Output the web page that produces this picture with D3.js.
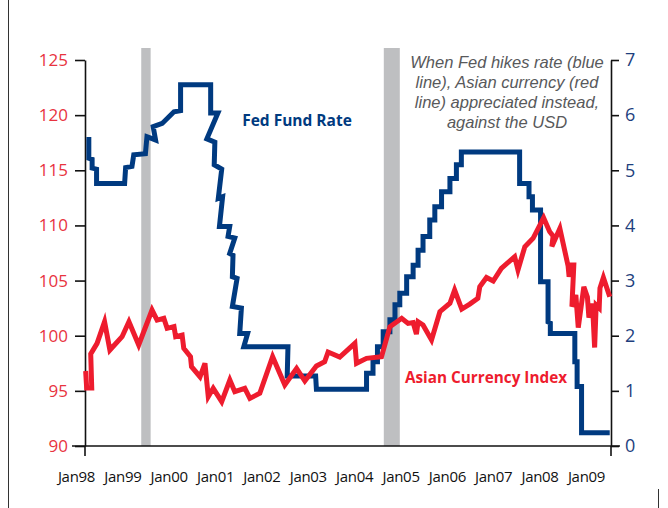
<!DOCTYPE html>
<html>
<head>
<meta charset="utf-8">
<script src="https://cdn.jsdelivr.net/npm/d3@7"></script>
<style>
  body { margin: 0; background: #fff; }
  svg { display: block; }
</style>
</head>
<body>
<div id="chart"></div>
<script>
// Fed fund rate (right axis, %)
const fedDates = [
  "1998-03-24", "1998-04-12", "1998-04-12", "1998-05-08", "1998-05-08", "1998-06-12", "1998-06-12",
  "1999-01-19", "1999-01-27", "1999-03-18", "1999-04-01", "1999-07-02", "1999-07-14", "1999-09-20",
  "1999-09-01", "1999-11-11", "2000-02-12", "2000-04-04", "2000-04-04", "2000-11-27", "2000-11-27",
  "2001-01-23", "2000-10-28", "2000-12-30", "2000-12-25", "2001-02-22", "2001-01-26", "2001-03-01",
  "2001-02-04", "2001-04-26", "2001-04-13", "2001-06-05", "2001-04-26", "2001-05-22", "2001-05-17",
  "2001-06-23", "2001-05-17", "2001-07-27", "2001-07-14", "2001-09-14", "2001-08-15", "2002-07-29",
  "2002-07-23", "2003-03-04", "2003-03-10", "2004-04-08", "2004-04-08", "2004-05-29", "2004-05-29",
  "2004-07-03", "2004-07-03", "2004-08-17", "2004-08-17", "2004-10-09", "2004-10-09", "2004-11-18",
  "2004-11-18", "2004-12-26", "2004-12-26", "2005-02-18", "2005-02-18", "2005-04-10", "2005-04-10",
  "2005-05-19", "2005-05-19", "2005-06-27", "2005-06-27", "2005-08-19", "2005-08-19", "2005-09-28",
  "2005-09-28", "2005-11-20", "2005-11-20", "2006-01-25", "2006-01-25", "2006-03-17", "2006-03-17",
  "2006-04-25", "2006-04-25", "2007-07-28", "2007-07-28", "2007-10-10", "2007-10-10", "2007-11-06",
  "2007-11-06", "2008-01-09", "2008-01-09", "2008-03-08", "2008-03-08", "2008-03-26", "2008-03-26",
  "2008-10-05", "2008-10-05", "2008-10-23", "2008-10-23", "2008-11-27", "2008-11-27", "2009-07-07"
];
const fedValues = [
  5.56, 5.56, 5.22, 5.20, 5.04, 5.02, 4.76,
  4.76, 5.05, 5.07, 5.28, 5.30, 5.61, 5.55,
  5.79, 5.85, 6.06, 6.08, 6.55, 6.55, 6.04,
  6.04, 5.57, 5.51, 5.10, 5.02, 4.49, 4.52,
  3.98, 3.98, 3.80, 3.77, 3.49, 3.46, 3.07,
  3.04, 2.53, 2.50, 2.04, 2.04, 1.80, 1.80,
  1.27, 1.27, 1.03, 1.03, 1.32, 1.32, 1.53,
  1.53, 1.80, 1.80, 2.07, 2.07, 2.29, 2.29,
  2.56, 2.56, 2.77, 2.77, 3.07, 3.07, 3.28,
  3.28, 3.55, 3.55, 3.80, 3.80, 4.10, 4.10,
  4.34, 4.34, 4.61, 4.61, 4.85, 4.85, 5.10,
  5.10, 5.33, 5.33, 4.76, 4.76, 4.52, 4.52,
  4.28, 4.28, 2.98, 2.98, 2.25, 2.23, 2.04,
  2.04, 1.53, 1.53, 1.08, 1.08, 0.24, 0.24
];

// Asian currency index (left axis)
const asiaDates = [
  "1998-03-18", "1998-03-26", "1998-05-05", "1998-04-27", "1998-06-16", "1998-08-14", "1998-09-25",
  "1998-12-30", "1999-02-22", "1999-05-10", "1999-08-23", "1999-10-02", "1999-11-24", "1999-12-20",
  "2000-02-12", "2000-02-25", "2000-04-16", "2000-04-29", "2000-06-21", "2000-06-29", "2000-09-04",
  "2000-10-13", "2000-11-08", "2000-12-17", "2001-02-22", "2001-04-27", "2001-06-05", "2001-08-23",
  "2001-10-02", "2001-12-19", "2002-03-30", "2002-07-04", "2002-10-05", "2002-12-09", "2003-03-10",
  "2003-05-14", "2003-06-10", "2003-09-10", "2004-01-07", "2004-01-20", "2004-04-08", "2004-08-04",
  "2004-10-09", "2005-01-10", "2005-03-01", "2005-04-10", "2005-05-06", "2005-05-19", "2005-06-27",
  "2005-09-02", "2005-11-07", "2006-01-25", "2006-03-03", "2006-04-28", "2006-06-30", "2006-09-02",
  "2006-09-17", "2006-11-09", "2007-01-01", "2007-03-06", "2007-06-19", "2007-07-15", "2007-09-07",
  "2007-11-11", "2008-02-02", "2008-03-21", "2008-04-17", "2008-04-07", "2008-06-09", "2008-08-13",
  "2008-08-21", "2008-09-10", "2008-09-27", "2008-09-12", "2008-10-13", "2008-11-01", "2008-12-15",
  "2009-01-12", "2009-01-24", "2009-02-21", "2009-03-10", "2009-03-22", "2009-04-15", "2009-04-21",
  "2009-05-18", "2009-07-07"
];
const asiaValues = [
  96.80, 95.26, 95.26, 98.34, 99.31, 101.27, 98.70,
  99.91, 101.27, 99.16, 102.33, 101.42, 101.58, 100.67,
  100.82, 99.91, 100.06, 98.86, 98.10, 97.19, 96.28,
  97.50, 94.47, 95.23, 94.02, 95.98, 94.92, 95.23,
  94.32, 94.78, 98.10, 95.53, 97.04, 95.89, 97.25,
  97.64, 98.52, 98.07, 99.31, 97.50, 97.95, 98.10,
  100.82, 101.58, 101.12, 101.20, 100.15, 101.27, 100.97,
  99.61, 102.18, 102.94, 104.14, 102.42, 102.87, 103.39,
  104.44, 105.28, 104.96, 106.11, 107.16, 105.96, 108.07,
  108.83, 110.69, 109.43, 109.04, 108.09, 109.72, 106.32,
  105.35, 106.41, 106.41, 102.63, 103.69, 100.74, 104.44,
  103.51, 101.65, 102.92, 98.93, 102.78, 102.51, 104.32,
  105.28, 103.54
];

// shaded periods (Fed hiking starts)
const shadeStarts = ["1999-05-30", "2004-08-22"];
const shadeEnds = ["1999-08-12", "2004-12-26"];

const xTickYears = ["1998", "1999", "2000", "2001", "2002", "2003", "2004", "2005", "2006", "2007", "2008", "2009"];
const xTickLabels = ["Jan98", "Jan99", "Jan00", "Jan01", "Jan02", "Jan03", "Jan04", "Jan05", "Jan06", "Jan07", "Jan08", "Jan09"];
const leftTicks = [90, 95, 100, 105, 110, 115, 120, 125];
const rightTicks = [0, 1, 2, 3, 4, 5, 6, 7];

const noteLines = [
  "When Fed hikes rate (blue",
  "line), Asian currency (red",
  "line) appreciated instead,",
  "against the USD"
];

const W = 668, H = 508;
const plotLeft = 85, plotRight = 611, plotTop = 60, plotBottom = 446;
const blue = "#003a80", red = "#ee1c2e";
const tickFont = "'Open Sans', sans-serif";

const parse = d3.timeParse("%Y-%m-%d");
const fedData = fedDates.map((d, i) => ({ date: parse(d), value: fedValues[i] }));
const asiaData = asiaDates.map((d, i) => ({ date: parse(d), value: asiaValues[i] }));

const svg = d3.select("#chart").append("svg")
  .attr("width", W)
  .attr("height", H);

// Scales
const x = d3.scaleTime()
  .domain([parse("1998-01-01"), parse("2009-01-01")])
  .range([76, 586]);
const yL = d3.scaleLinear().domain([90, 125]).range([plotBottom, plotTop]);
const yR = d3.scaleLinear().domain([0, 7]).range([plotBottom, plotTop]);

// frame
svg.append("line").attr("x1", 8.5).attr("x2", 8.5).attr("y1", 0).attr("y2", H)
  .attr("stroke", "#333").attr("stroke-width", 1);
svg.append("line").attr("x1", 658.5).attr("x2", 658.5).attr("y1", 489).attr("y2", H)
  .attr("stroke", "#333").attr("stroke-width", 1);

// shaded bands
svg.selectAll(".shade")
  .data(shadeStarts.map((s, i) => ({ s: parse(s), e: parse(shadeEnds[i]) })))
  .join("rect")
  .attr("class", "shade")
  .attr("x", d => x(d.s))
  .attr("width", d => x(d.e) - x(d.s))
  .attr("y", 48)
  .attr("height", plotBottom - 48)
  .attr("fill", "#bebfc1");

// Axes
const leftAxis = svg.append("g")
  .attr("transform", `translate(${plotLeft},0)`)
  .call(d3.axisLeft(yL).tickValues(leftTicks).tickSize(10).tickSizeOuter(0).tickPadding(7));
leftAxis.selectAll("text")
  .attr("fill", "#e8333f")
  .style("font-family", tickFont)
  .style("font-size", "17px");

const rightAxis = svg.append("g")
  .attr("transform", `translate(${plotRight},0)`)
  .call(d3.axisRight(yR).tickValues(rightTicks).tickFormat(d3.format("d"))
    .tickSize(8).tickSizeOuter(0).tickPadding(6));
rightAxis.selectAll("text")
  .attr("fill", "#1e3f7e")
  .style("font-family", tickFont)
  .style("font-size", "18px");

[leftAxis, rightAxis].forEach(g => {
  g.selectAll("line, path").attr("stroke", "#111").attr("stroke-width", 1.6);
});

// vertical axes run a little below the baseline
svg.append("line").attr("x1", plotLeft).attr("x2", plotLeft).attr("y1", plotBottom).attr("y2", 456)
  .attr("stroke", "#111").attr("stroke-width", 1.6);
svg.append("line").attr("x1", plotRight).attr("x2", plotRight).attr("y1", plotBottom).attr("y2", 456)
  .attr("stroke", "#111").attr("stroke-width", 1.6);

const bottomAxis = svg.append("g")
  .attr("transform", `translate(0,${plotBottom})`)
  .call(d3.axisBottom(x).tickValues(xTickYears.map(y => parse(y + "-01-01"))).tickSize(0)
    .tickFormat((d, i) => xTickLabels[i]));
bottomAxis.select(".domain").remove();
bottomAxis.selectAll("text")
  .attr("y", 36)
  .attr("dy", 0)
  .attr("fill", "#111")
  .style("font-family", tickFont)
  .style("font-size", "15px")
  .style("letter-spacing", "-0.3px");
svg.append("line").attr("x1", 72).attr("x2", 620).attr("y1", plotBottom).attr("y2", plotBottom)
  .attr("stroke", "#111").attr("stroke-width", 1.6);

// Lines
svg.append("path")
  .datum(fedData)
  .attr("fill", "none")
  .attr("stroke", blue)
  .attr("stroke-width", 5)
  .attr("stroke-linejoin", "miter")
  .attr("d", d3.line().x(d => x(d.date)).y(d => yR(d.value)));

svg.append("path")
  .datum(asiaData)
  .attr("fill", "none")
  .attr("stroke", red)
  .attr("stroke-width", 5)
  .attr("stroke-linejoin", "miter")
  .attr("d", d3.line().x(d => x(d.date)).y(d => yL(d.value)));

// Labels
svg.append("text")
  .attr("x", 297).attr("y", 126)
  .attr("text-anchor", "middle")
  .attr("fill", blue)
  .style("font-family", "'Open Sans', sans-serif")
  .style("font-weight", "bold")
  .style("font-size", "15.5px")
  .text("Fed Fund Rate");

svg.append("text")
  .attr("x", 486).attr("y", 383)
  .attr("text-anchor", "middle")
  .attr("fill", red)
  .style("font-family", "'Open Sans', sans-serif")
  .style("font-weight", "bold")
  .style("font-size", "15.3px")
  .text("Asian Currency Index");

svg.append("g")
  .selectAll("text")
  .data(noteLines)
  .join("text")
  .attr("x", 507)
  .attr("y", (d, i) => 68 + i * 20)
  .attr("text-anchor", "middle")
  .attr("fill", "#58595b")
  .style("font-family", "'Liberation Sans', Arial, sans-serif")
  .style("font-style", "italic")
  .style("font-size", "16.5px")
  .text(d => d);
</script>
</body>
</html>
